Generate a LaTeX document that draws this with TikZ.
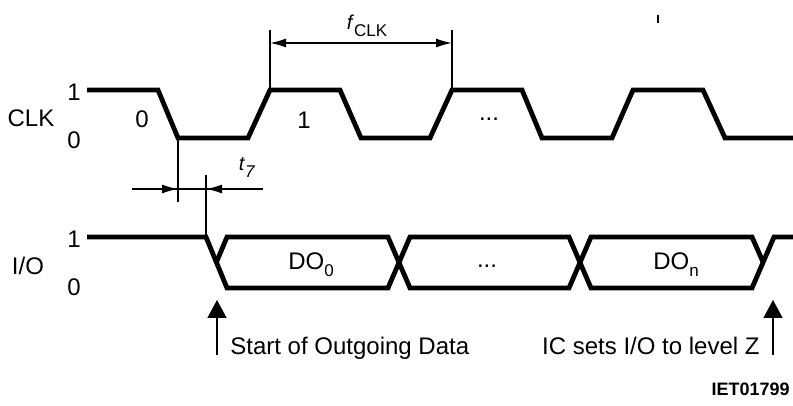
\documentclass[tikz,border=0pt]{standalone}
\usepackage{fontspec}
\setmainfont{Liberation Sans}
\usetikzlibrary{arrows.meta}
\tikzset{
  wave/.style={line width=2.4pt, line join=miter},
  dimline/.style={line width=0.75pt},
  dimarrow/.style={line width=0.75pt, -{Latex[length=8pt,width=4.5pt]}},
  markarrow/.style={line width=0.8pt, -{Triangle[length=9pt,width=9.5pt]}},
  lvl/.style={font=\fontsize{12}{14}\selectfont, inner sep=0pt},
  siglabel/.style={font=\fontsize{12}{14}\selectfont, inner sep=0pt},
  note/.style={font=\fontsize{12}{14}\selectfont, inner sep=0pt},
  figno/.style={font=\bfseries\fontsize{9}{11}\selectfont, inner sep=0pt}
}
\newcommand{\lowsub}[1]{\raisebox{-3.5pt}{\fontsize{8.5}{10}\selectfont #1}}

\begin{document}
\begin{tikzpicture}[x=0.5pt, y=-0.5pt]
  \useasboundingbox (0,0) rectangle (793,406);
  % reference points
  \coordinate (clkdown) at (178,138);
  \coordinate (clkup1) at (270,90);
  \coordinate (clkup2) at (452,90);
  \coordinate (iodown) at (206,237);
  \coordinate (t7l) at (132,189);
  \coordinate (t7r) at (263,189);
  \coordinate (fclkl) at (270,43);
  \coordinate (fclkr) at (452,43);
  \coordinate (startpt) at (217,355);
  \coordinate (zpt) at (773,355);

  % CLK waveform
  \draw[wave] (87,90) -- (158,90) -- (clkdown) -- (248,138) -- (clkup1) -- (340,90)
    -- (361,138) -- (430,138) -- (clkup2) -- (522,90) -- (542,138) -- (612,138)
    -- (633,90) -- (703,90) -- (725,138) -- (793,138);

  % I/O waveform
  \draw[wave] (87,237) -- (iodown) -- (227,288) -- (388,288) -- (410,237) -- (569,237)
    -- (591,288) -- (752,288) -- (774,237) -- (793,237);
  \draw[wave] (216.5,262) -- (227,237) -- (388,237) -- (410,288) -- (569,288)
    -- (591,237) -- (752,237) -- (763,262);

  % t7
  \draw[dimline] (clkdown) -- ++(0,64);
  \draw[dimline] (iodown) -- ++(0,-62);
  \draw[dimline] (t7l) -- (t7r);
  \draw[dimarrow] (t7l) -- (t7l -| clkdown);
  \draw[dimarrow] (t7r) -- (t7r -| iodown);
  \node (t7) at (247,168) {\textit{t}\lowsub{\textit{7}}};

  % fCLK
  \draw[dimline] (clkup1) -- ++(0,-60);
  \draw[dimline] (clkup2) -- ++(0,-60);
  \draw[dimline, {Latex[length=8pt,width=4.5pt]}-{Latex[length=8pt,width=4.5pt]}] (fclkl) -- (fclkr);
  \node (fclk) at (367,26) {\textit{f}\lowsub{CLK}};
  \draw[dimline] (658,15) -- (658,23);

  % labels
  \node[siglabel] (clk) at (31,118) {CLK};
  \node[lvl] (clkhi) at (74,92) {1};
  \node[lvl] (clklo) at (74,140) {0};
  \node[lvl] (bit0) at (142,119) {0};
  \node[lvl] (bit1) at (304,120) {1};
  \node[lvl, anchor=base] (clkdots) at (489,121) {...};

  \node[siglabel] (io) at (28,266) {I/O};
  \node[lvl] (iohi) at (74,239) {1};
  \node[lvl] (iolo) at (74,287) {0};
  \node[lvl] (dout0) at (311,265) {DO\lowsub{0}};
  \node[lvl, anchor=base] (iodots) at (487,268) {...};
  \node[lvl] (doutn) at (676,265) {DO\lowsub{n}};

  % markers
  \draw[markarrow] (startpt) -- ++(0,-55);
  \draw[markarrow] (zpt) -- ++(0,-55);
  \node[note, anchor=base west] (startnote) at (230,355) {Start of Outgoing Data};
  \node[note, anchor=base east] (znote) at (760,355) {IC sets I/O to level Z};
  \node[figno, anchor=base east] (fig) at (790,395) {IET01799};
\end{tikzpicture}
\end{document}
